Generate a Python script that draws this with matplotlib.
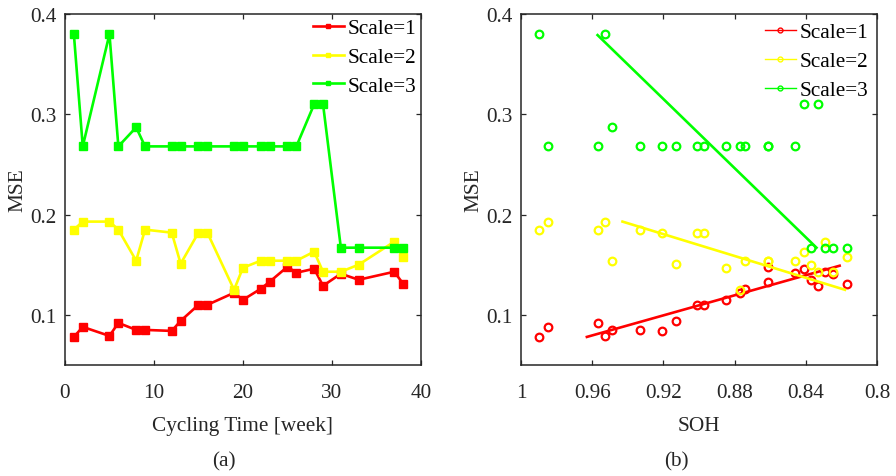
import matplotlib.pyplot as plt
from matplotlib.lines import Line2D

# ==== data ====
weeks = [1, 2, 5, 6, 8, 9, 12, 13, 15, 16, 19, 20, 22, 23, 25, 26, 28, 29, 31, 33, 37, 38]
soh = [0.990, 0.985, 0.953, 0.957, 0.949, 0.933, 0.921, 0.913, 0.901, 0.897, 0.877,
       0.885, 0.874, 0.861, 0.861, 0.846, 0.841, 0.833, 0.825, 0.837, 0.829, 0.817]

mse_scale1 = [0.078, 0.088, 0.079, 0.092, 0.085, 0.085, 0.084, 0.094, 0.110, 0.110, 0.122,
              0.115, 0.126, 0.133, 0.148, 0.142, 0.146, 0.129, 0.141, 0.135, 0.143, 0.131]
mse_scale2 = [0.185, 0.193, 0.193, 0.185, 0.154, 0.185, 0.182, 0.151, 0.182, 0.182, 0.125,
              0.147, 0.154, 0.154, 0.154, 0.154, 0.163, 0.143, 0.143, 0.150, 0.173, 0.158]
mse_scale3 = [0.380, 0.268, 0.380, 0.268, 0.287, 0.268, 0.268, 0.268, 0.268, 0.268, 0.268,
              0.268, 0.268, 0.268, 0.268, 0.268, 0.310, 0.310, 0.167, 0.167, 0.167, 0.167]

# trend lines in panel (b): end points (SOH, MSE)
fit_soh_1 = [0.963, 0.821]
fit_mse_1 = [0.078, 0.149]
fit_soh_2 = [0.943, 0.818]
fit_mse_2 = [0.193, 0.125]
fit_soh_3 = [0.957, 0.834]
fit_mse_3 = [0.379, 0.167]

labels = ['Scale=1', 'Scale=2', 'Scale=3']
colors = ['#FF0000', '#FFFF00', '#00FF00']

y_ticks = [0.1, 0.2, 0.3, 0.4]
y_ticklabels = ['0.1', '0.2', '0.3', '0.4']
x_ticks_a = [0, 10, 20, 30, 40]
x_ticks_b = [1, 0.96, 0.92, 0.88, 0.84, 0.8]
x_ticklabels_b = ['1', '0.96', '0.92', '0.88', '0.84', '0.8']

plt.rcParams['font.family'] = ['Liberation Serif', 'DejaVu Serif']
plt.rcParams['font.size'] = 15.3
TXT = '#262626'


def style_axes(ax):
    for sp in ax.spines.values():
        sp.set_color(TXT)
        sp.set_linewidth(1.1)
    ax.tick_params(direction='in', top=True, right=True, length=3.5, width=0.9,
                   colors=TXT, labelcolor=TXT, pad=6)
    ax.tick_params(axis='x', pad=13)
    ax.set_ylim(0.05, 0.4)
    ax.set_yticks(y_ticks)
    ax.set_yticklabels(y_ticklabels)
    ax.set_ylabel('MSE', color=TXT, labelpad=2)


def main():
    fig = plt.figure(figsize=(8.96, 4.77), dpi=100)
    ax1 = fig.add_axes([0.0725, 0.2327, 0.3973, 0.7358])
    ax2 = fig.add_axes([0.5815, 0.2327, 0.3973, 0.7358])

    series = [mse_scale1, mse_scale2, mse_scale3]

    # --- (a) MSE vs cycling time ---
    for mse, c, lab in zip(series, colors, labels):
        ax1.plot(weeks, mse, '-s', color=c, lw=1.9, ms=5.5, mec=c, mfc=c, label=lab)
    style_axes(ax1)
    ax1.set_xlim(0, 40)
    ax1.set_xticks(x_ticks_a)
    ax1.set_xlabel('Cycling Time [week]', color=TXT, labelpad=10)
    ax1.legend(loc='upper right', frameon=False, handlelength=1.45, handletextpad=0.2,
               labelspacing=0.42, borderaxespad=0.0, borderpad=0.2, markerscale=0.6)

    # --- (b) MSE vs SOH ---
    fits = [(fit_soh_1, fit_mse_1), (fit_soh_2, fit_mse_2), (fit_soh_3, fit_mse_3)]
    handles = []
    for mse, (fx, fy), c, lab in zip(series, fits, colors, labels):
        ax2.plot(soh, mse, 'o', ls='none', ms=5.5, mfc='none', mec=c, mew=1.6)
        ax2.plot(fx, fy, '-', color=c, lw=1.9)
        handles.append(Line2D([], [], color=c, lw=1.0, marker='o', ms=3.5,
                              mfc='none', mec=c, mew=1.0, label=lab))
    style_axes(ax2)
    ax2.set_xlim(1, 0.8)
    ax2.set_xticks(x_ticks_b)
    ax2.set_xticklabels(x_ticklabels_b)
    ax2.set_xlabel('SOH', color=TXT, labelpad=10)
    ax2.legend(handles=handles, loc='upper right', frameon=False, handlelength=1.45,
               handletextpad=0.2, labelspacing=0.42, borderaxespad=0.2, borderpad=0.2)

    # panel tags
    fig.text(224 / 896, 1 - 462 / 477, '(a)', ha='center', va='center', color=TXT)
    fig.text(676 / 896, 1 - 462 / 477, '(b)', ha='center', va='center', color=TXT)

    fig.savefig('out.png', dpi=100)


if __name__ == '__main__':
    main()
